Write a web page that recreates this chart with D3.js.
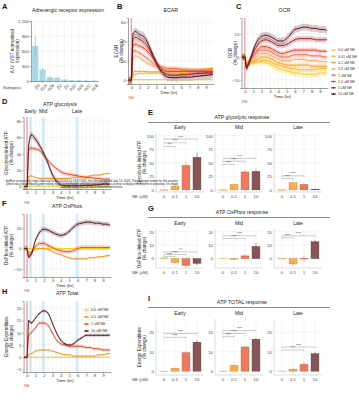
<!DOCTYPE html>
<html><head><meta charset="utf-8">
<script src="https://cdn.jsdelivr.net/npm/d3@7"></script>
<style>
body{margin:0;background:#fff}
svg{font-family:"Liberation Sans",Arial,sans-serif}
</style></head><body>
<svg id="fig" width="359" height="400"></svg>
<script>
// ---- data ----
var receptors = ["β3","α1A","α2B","β2","β1","α1D","α2A","α2C","α1B"];
var receptorExpr = [700, 230, 75, 65, 30, 15, 12, 10, 6];
var receptorErr = [200, 30, 12, 10, 6, 4, 3, 3, 2];

var times = [-0.3, 0, 0.2, 0.5, 1, 1.5, 2, 2.5, 3, 3.5, 4, 4.5, 5, 5.5, 6, 6.5, 7, 7.5, 8, 8.5, 9, 9.5, 9.8];

var doses8 = ["0.0 uM NE","0.01 uM NE","0.1 uM NE","0.5 uM NE","1 uM NE","1.5 uM NE","5 uM NE","10 uM NE"];
var colors8 = ["#F7CB15","#FBB62A","#F59A1E","#F6A26A","#F0684A","#DD3A1F","#A9141A","#520D10"];

var ecar = [
  [0,0,0.5,0.5,0.5,0.5,0.5,0.5,0.5,0.5,0.5,0.5,0.5,0.5,0.5,0.5,0.5,0.5,0.5,0.5,0.5,0.5,0.5],
  [0,0,5,6,7,7,7,7,7,7,7,7,7.5,7.5,8,8,8.5,9,9.5,10,11,12,12.5],
  [0,0,8,9,9,9,8.5,8.5,8.5,8.5,9,9,9,9,9.5,9.5,10,10,10.5,11,11.5,12,12.5],
  [0,0,22,25,23,20,17,15,13,12,11,11,11,11,11,11,10.5,10.5,10,10,10,10,10],
  [0,0,30,30,28,25,22,18,15,14,13,12,12,12,11,11,10,10,10,10,10,10,10],
  [0,0,36,37,35,33,29,24,18,13,10,9,9,9,9,9,9,9,9,9,9,9,9],
  [0,0,42,44,42,39,34,26,18,11,7,5.5,5,5,5.5,5.5,6,6.5,7,7,7.5,7.5,7.5],
  [0,0,48,50,47,45,38,28,18,10,5,3,2.5,2.5,3,3,3,3.5,4,4.5,5,5.5,6]
];
var ecarSE = [0.6, 1, 1, 2, 2.5, 3, 3.5, 4];

var ocr = [
  [0,0,-2,-2,-2,-2,-2,-2.5,-3,-4,-5,-5.5,-6,-6.5,-7,-7,-7.5,-7.5,-7.5,-7.5,-7,-7,-6.5],
  [0,0,-4,-3,-2.5,-2,-1.5,-1.5,-2,-3,-3.5,-4,-4.5,-5,-5,-5.5,-5.5,-5.5,-5.5,-5.5,-5,-5,-5],
  [0,0,-5,-3,-2,-1,0,0,-0.5,-1.5,-2.5,-3,-3.5,-3.5,-3.5,-3.5,-3.5,-3.5,-4,-4,-4,-4,-4],
  [0,0,-5,-2.5,-1,0.5,1.5,1.5,1,0,-1,-1.5,-1.5,-1.5,-1,-1,-1,-1.5,-1.5,-1.5,-2,-2,-2],
  [0,0,-5,-2,0,2,3,3,2.5,1.5,0.5,0,0,0.5,1,1,1,1,0.5,0.5,0.5,0,0],
  [0,0,-5,-2,1,3,4.5,4.5,4,3,2,1.5,2,2.5,3,3,3,3,3,3,2.5,2.5,2.5],
  [0,0,-5,-2,2,5,7,7.5,7,6,5,5,5.5,6.5,7.5,8,8,8,8,7.5,7.5,7.5,7.5],
  [0,0,-4,-3,3,7,9,9.5,9,8,7,7,8,10,12,12.5,13,13,12.5,12.5,12,12,11.5]
];
var ocrSE = [1.5, 1, 1, 1, 1, 1, 1.2, 1.5];

var doses4 = ["0.0 uM NE","0.1 uM NE","1 uM NE","10 uM NE"];
var colors4 = ["#F7CB15","#F39019","#E8431A","#4B0D10"];

var atpGly = [
  [0,0,0.5,0.5,0.5,0.5,0.5,0.5,0.5,0.5,0.5,0.5,0.5,0.5,0.5,0.5,0.5,0.5,0.5,0.5,0.5,0.5,0.5],
  [0,0,12,13,11,10,10,10,10,10,10,10,10,11,11,12,12,13,14,14,15,16,16],
  [0,0,45,47,46,44,38,32,26,22,18,16,15,14,13,12,11,11,10,10,9,9,9],
  [0,0,50,63,58,50,40,28,15,6,2,1,1,1,1,1,1.5,1.5,2,2,3,3,3]
];
var atpGlySE = [0.5, 1, 2.5, 4];

var atpOx = [
  [0,0,0,0,0,0,0,0,0,0,0,0,0,0,0,0,0,0,0,0,0,0,0],
  [0,0,-2,-1.5,-0.5,0,0,-0.5,-1.5,-2.5,-3,-4,-4.5,-5,-5,-5,-5,-4.5,-4.5,-4,-4,-3.5,-3.5],
  [0,0,-4,-2,1,2.5,2.5,1.5,0.5,-0.5,-1,-1.5,-1.5,-1,0,0.5,0.5,0.5,0.5,0.5,0.5,0.5,0.5],
  [0,0,-4,-3,4,8,9.5,9,8,7,6.5,7,8.5,10.5,12,12.5,13,13,12.5,12.5,12,12,11.5]
];
var atpOxSE = [0.3, 0.5, 1.2, 1.2];

var atpTot = [
  [0,0,0,0,0,0,0,0,0,0,0,0,0,0,0,0,0,0,0,0,0,0,0],
  [0,0,1,1.5,2.5,3,3,3,2.5,2,1.5,1,1,0.5,0.5,0.5,0.5,0.5,0.5,1,1,1.5,1.5],
  [0,0,9,10,12,14,14,13,10,7,5.5,5,4.5,4.5,4.5,4.5,4,4,3.5,3.5,3,3,3],
  [0,0,15,14,16,18,19,18,14,10,7,5.5,5,5.5,7,8,9,9,9,9,9,9,9]
];
var atpTotSE = [0.2, 0.3, 0.6, 0.6];

var stageWindows = [[0.25, 0.6], [1.75, 2.1], [5.75, 6.1]];
var stages = ["Early", "Mid", "Late"];

var barDoses = ["0", "0.1", "1", "10"];
var barColors = ["#F9D25C", "#F7A637", "#EB6A4C", "#7A4444"];
var gly = [[0, 7, 45, 60], [0, 10, 33, 34], [0, 13, 10, 1]];
var glySE = [[0.5, 2, 5, 8], [0.5, 2, 3, 4], [0.5, 2, 2, 1]];
var glyBr = [[[0,1,80,"***"],[0,2,87,"****"],[0,3,94,"****"]],
             [[0,1,47,"****"],[0,2,53,"****"],[0,3,58,"****"]],
             [[0,1,21,"****"],[0,2,26,"****"]]];
var ox = [[0.5, -3, -5, -3.5], [0.3, -0.5, 2, 9], [0, -4, 0, 12.5]];
var oxSE = [[0.3, 1, 1.5, 1.5], [0.2, 0.5, 0.7, 2.5], [0.2, 1.5, 2.5, 1.5]];
var oxBr = [[[0,1,1.5,"****"],[0,2,3,"****"],[0,3,5,"**"]],
            [[0,2,15,"****"],[0,3,17,"****"]],
            [[0,1,15.5,"****"],[0,3,17,"****"]]];
var tot = [[0, 1.5, 9.5, 15], [0, 3, 12.5, 16.5], [0, 1, 3.5, 9]];
var totSE = [[0.2, 0.5, 0.8, 0.8], [0.2, 0.7, 0.7, 0.6], [0.2, 1, 1.2, 0.8]];
var totBr = [[[0,2,17.5,"****"],[0,3,19.5,"****"]],
             [[0,1,18,"****"],[0,2,19.5,"****"],[0,3,21,"****"]],
             [[0,2,11,"***"],[0,3,12.5,"****"]]];

var watermark = [
  "bioRxiv preprint doi: https://doi.org/10.1101/2024.01.29.577401; this version posted July 10, 2024. The copyright holder for this preprint",
  "(which was not certified by peer review) is the author/funder, who has granted bioRxiv a license to display the preprint in perpetuity. It is made",
  "available under a CC-BY-NC 4.0 International license."
];

// ---- drawing ----
var svg = d3.select("#fig");
var GRID = "#ebebeb";

function label(x, y, s, size, opt) {
  opt = opt || {};
  return svg.append("text").attr("x", x).attr("y", y).text(s)
    .attr("font-size", size).attr("fill", opt.fill || "#222")
    .attr("text-anchor", opt.anchor || "middle")
    .attr("font-weight", opt.bold ? "bold" : null);
}
function vlabel(x, y, lines, size) {
  var t = svg.append("text").attr("transform", "translate(" + [x, y] + ") rotate(-90)")
    .attr("font-size", size).attr("text-anchor", "middle").attr("fill", "#222");
  lines.forEach(function(l, i) {
    t.append("tspan").attr("x", 0).attr("dy", i ? size * 1.1 : 0).text(l);
  });
}
function styleAxis(g, size) {
  g.selectAll("text").attr("font-size", size).attr("fill", "#444");
  g.selectAll("line").attr("stroke", "#444").attr("stroke-width", 0.4);
  g.select(".domain").attr("stroke", "#444").attr("stroke-width", 0.5);
}

function timePanel(c) {
  var g = svg.append("g");
  var x = d3.scaleLinear().domain([-0.4, 9.9]).range([c.left, c.right]);
  var y = d3.scaleLinear().domain(c.ydom).range([c.bottom, c.top]);
  g.append("g").selectAll("line").data(d3.range(0, 10, 0.5)).join("line")
    .attr("x1", d => x(d)).attr("x2", d => x(d)).attr("y1", c.top).attr("y2", c.bottom)
    .attr("stroke", GRID).attr("stroke-width", d => d % 1 ? 0.3 : 0.5);
  g.append("g").selectAll("line").data(c.yticks).join("line")
    .attr("x1", c.left).attr("x2", c.right).attr("y1", d => y(d)).attr("y2", d => y(d))
    .attr("stroke", GRID).attr("stroke-width", 0.5);
  if (c.bands) {
    g.selectAll("rect.band").data(stageWindows).join("rect")
      .attr("x", d => x(d[0])).attr("width", d => x(d[1]) - x(d[0]))
      .attr("y", c.top).attr("height", c.bottom - c.top).attr("fill", "#cfe5f7").attr("opacity", 0.8);
    if (c.stageY) stages.forEach(function(s, i) {
      label(x((stageWindows[i][0] + stageWindows[i][1]) / 2), c.stageY, s, 5.2);
    });
  }
  g.append("rect").attr("x", x(-0.1)).attr("width", x(0.1) - x(-0.1))
    .attr("y", c.top).attr("height", c.bottom - c.top).attr("fill", "#f7c6c6").attr("opacity", 0.6);
  g.append("line").attr("x1", x(0)).attr("x2", x(0)).attr("y1", c.top).attr("y2", c.bottom)
    .attr("stroke", "#e8706a").attr("stroke-width", 0.6);
  var area = d3.area().x((d, i) => x(times[i])).curve(d3.curveMonotoneX);
  var line = d3.line().x((d, i) => x(times[i])).y(d => y(d)).curve(d3.curveMonotoneX);
  c.series.forEach(function(vals, k) {
    var se = c.se[k];
    g.append("path").datum(vals)
      .attr("d", area.y0(d => y(d - se)).y1(d => y(d + se)))
      .attr("fill", c.colors[k]).attr("opacity", 0.22);
  });
  c.series.forEach(function(vals, k) {
    g.append("path").datum(vals).attr("d", line)
      .attr("fill", "none").attr("stroke", c.colors[k]).attr("stroke-width", 0.9);
    g.append("g").selectAll("circle").data(vals).join("circle")
      .attr("cx", (d, i) => x(times[i])).attr("cy", d => y(d)).attr("r", 0.45)
      .attr("fill", c.colors[k]);
  });
  var ax = g.append("g").attr("transform", "translate(0," + c.bottom + ")")
    .call(d3.axisBottom(x).tickValues(d3.range(0, 10)).tickSize(1.2).tickPadding(1));
  styleAxis(ax, 4.3);
  var ay = g.append("g").attr("transform", "translate(" + c.left + ",0)")
    .call(d3.axisLeft(y).tickValues(c.yticks).tickSize(1.2).tickPadding(1));
  styleAxis(ay, 4.3);
  label(x(4.5), c.bottom + 10, "Time (hr)", 4.3);
  label(x(0), c.bottom + 14.5, "NE", 4, { fill: "#e8534b" });
  label(c.titleX || (c.left + c.right) / 2, c.titleY || c.top - 6, c.title, 5.3);
  vlabel(c.ylabX, (c.top + c.bottom) / 2, c.ylab, 4.6);
  return { x: x, y: y };
}

function barPanel(c) {
  var lefts = [156, 215, 274], w = 48;
  label(242, c.headY, c.header, 5.2);
  svg.append("line").attr("x1", 148).attr("x2", 330).attr("y1", c.headY + 3.5).attr("y2", c.headY + 3.5)
    .attr("stroke", "#8a8a8a").attr("stroke-width", 1.2);
  var y = d3.scaleLinear().domain(c.ydom).range([c.bottom, c.top]);
  stages.forEach(function(st, k) {
    var L = lefts[k];
    var g = svg.append("g");
    var x = d3.scaleBand().domain(barDoses).range([L + 1, L + w]).padding(0.28);
    g.selectAll("line.gx").data(barDoses).join("line")
      .attr("x1", d => x(d) + x.bandwidth() / 2).attr("x2", d => x(d) + x.bandwidth() / 2)
      .attr("y1", c.top).attr("y2", c.bottom).attr("stroke", GRID).attr("stroke-width", 0.5);
    g.selectAll("line.gy").data(c.yticks).join("line")
      .attr("x1", L).attr("x2", L + w).attr("y1", d => y(d)).attr("y2", d => y(d))
      .attr("stroke", GRID).attr("stroke-width", 0.5);
    g.append("line").attr("x1", L).attr("x2", L).attr("y1", c.top).attr("y2", c.bottom)
      .attr("stroke", "#bbb").attr("stroke-width", 0.5);
    g.append("line").attr("x1", L).attr("x2", L + w).attr("y1", c.bottom).attr("y2", c.bottom)
      .attr("stroke", "#bbb").attr("stroke-width", 0.5);
    label(L + w / 2, c.titleY, st, 5);
    var vals = c.vals[k], se = c.se[k];
    g.selectAll("rect").data(vals).join("rect")
      .attr("x", (d, i) => x(barDoses[i])).attr("width", x.bandwidth())
      .attr("y", d => y(Math.max(0, d))).attr("height", d => Math.max(0.4, Math.abs(y(d) - y(0))))
      .attr("fill", (d, i) => barColors[i]).attr("fill-opacity", 0.9)
      .attr("stroke", (d, i) => d3.color(barColors[i]).darker(0.6)).attr("stroke-width", 0.4);
    g.selectAll("line.err").data(vals).join("line")
      .attr("x1", (d, i) => x(barDoses[i]) + x.bandwidth() / 2).attr("x2", (d, i) => x(barDoses[i]) + x.bandwidth() / 2)
      .attr("y1", (d, i) => y(d - se[i])).attr("y2", (d, i) => y(d + se[i]))
      .attr("stroke", (d, i) => d3.color(barColors[i]).darker(0.3)).attr("stroke-width", 0.5);
    c.br[k].forEach(function(b) {
      var xa = x(barDoses[b[0]]) + x.bandwidth() / 2, xb = x(barDoses[b[1]]) + x.bandwidth() / 2, yy = y(b[2]);
      g.append("path").attr("d", "M" + xa + "," + (yy + 1) + "V" + yy + "H" + xb + "V" + (yy + 1))
        .attr("fill", "none").attr("stroke", "#999").attr("stroke-width", 0.5);
      label((xa + xb) / 2, yy - 0.4, b[3], 3.4, { fill: "#333" });
    });
    var ay = g.append("g").attr("transform", "translate(" + L + ",0)")
      .call(d3.axisLeft(y).tickValues(c.yticks).tickSize(0).tickPadding(2));
    styleAxis(ay, 4.3);
    ay.select(".domain").remove();
    barDoses.forEach(function(d) {
      label(x(d) + x.bandwidth() / 2, c.xlabY, d, 4.3, { fill: "#444" });
    });
  });
  label(140, c.xlabY, "NE (uM)", 4.3, { fill: "#444" });
  vlabel(c.ylabX, (c.top + c.bottom) / 2, c.ylab, 4.6);
}

// Panel A
(function() {
  var left = 31, right = 98, top = 21, bottom = 81;
  var x = d3.scaleBand().domain(receptors).range([left, right]).padding(0.15);
  var y = d3.scaleLinear().domain([0, 1200]).range([bottom, top]);
  var g = svg.append("g");
  g.selectAll("line.gy").data([0, 300, 600, 900, 1200]).join("line")
    .attr("x1", left).attr("x2", right).attr("y1", d => y(d)).attr("y2", d => y(d))
    .attr("stroke", GRID).attr("stroke-width", 0.5);
  g.selectAll("line.gx").data(receptors).join("line")
    .attr("x1", d => x(d) + x.bandwidth() / 2).attr("x2", d => x(d) + x.bandwidth() / 2)
    .attr("y1", top).attr("y2", bottom).attr("stroke", GRID).attr("stroke-width", 0.5);
  g.selectAll("rect").data(receptorExpr).join("rect")
    .attr("x", (d, i) => x(receptors[i])).attr("width", x.bandwidth())
    .attr("y", d => y(d)).attr("height", d => bottom - y(d)).attr("fill", "#a8d7e6");
  g.selectAll("line.err").data(receptorExpr).join("line")
    .attr("x1", (d, i) => x(receptors[i]) + x.bandwidth() / 2).attr("x2", (d, i) => x(receptors[i]) + x.bandwidth() / 2)
    .attr("y1", (d, i) => y(d - receptorErr[i])).attr("y2", (d, i) => y(d + receptorErr[i]))
    .attr("stroke", "#6fb6cf").attr("stroke-width", 0.6);
  var ay = g.append("g").attr("transform", "translate(" + left + ",0)")
    .call(d3.axisLeft(y).tickValues([0, 300, 600, 900, 1200]).tickSize(1.2).tickPadding(1));
  styleAxis(ay, 4.3);
  var ax = g.append("g").attr("transform", "translate(0," + bottom + ")")
    .call(d3.axisBottom(x).tickSize(1.2).tickPadding(1));
  styleAxis(ax, 4.3);
  ax.selectAll("text").attr("text-anchor", "end").attr("transform", "translate(1,1) rotate(-45)");
  label(3, 89, "Subtypes:", 4.3, { anchor: "start", fill: "#444" });
  label(68, 12, "Adrenergic receptor expression", 5.2);
  vlabel(14, 51, ["A.U. (VST normalised", "expression)"], 4.6);
})();

timePanel({ left: 128, right: 213.5, top: 18, bottom: 84, ydom: [-4, 64], yticks: [0, 20, 40, 60],
  series: ecar, se: ecarSE, colors: colors8, title: "ECAR", ylab: ["ECAR", "(% change)"], ylabX: 118 });

timePanel({ left: 241.5, right: 327.5, top: 18, bottom: 88, ydom: [-13.5, 17], yticks: [-10, 0, 10],
  series: ocr, se: ocrSE, colors: colors8, title: "OCR", ylab: ["OCR", "(% change)"], ylabX: 232 });

// legend for B/C
doses8.forEach(function(d, i) {
  var yy = 50 + i * 6.3;
  svg.append("line").attr("x1", 331).attr("x2", 336).attr("y1", yy).attr("y2", yy)
    .attr("stroke", colors8[i]).attr("stroke-width", 0.9);
  svg.append("circle").attr("cx", 333.5).attr("cy", yy).attr("r", 1).attr("fill", colors8[i]);
  label(338, yy + 1.3, d, 3.6, { anchor: "start", fill: "#333" });
});

timePanel({ left: 23.6, right: 110.6, top: 117, bottom: 189, ydom: [-3, 85], yticks: [0, 20, 40, 60, 80],
  series: atpGly, se: atpGlySE, colors: colors4, title: "ATP glycolysis", titleY: 106, titleX: 60,
  bands: true, stageY: 113, ylab: ["Glycolysis-linked ATP", "(% change)"], ylabX: 8 });

timePanel({ left: 23.6, right: 110.6, top: 214, bottom: 277, ydom: [-14, 17], yticks: [-10, 0, 10],
  series: atpOx, se: atpOxSE, colors: colors4, title: "ATP OxPhos", bands: true,
  ylab: ["OxPhos-linked ATP", "(% change)"], ylabX: 8 });

timePanel({ left: 23.6, right: 110.6, top: 301, bottom: 372, ydom: [-6, 23], yticks: [-5, 0, 5, 10, 15, 20],
  series: atpTot, se: atpTotSE, colors: colors4, title: "ATP Total", bands: true,
  ylab: ["Energy Expenditure", "(% change)"], ylabX: 8 });

// legend in H
doses4.forEach(function(d, i) {
  var yy = 310 + i * 7;
  svg.append("line").attr("x1", 84).attr("x2", 89).attr("y1", yy).attr("y2", yy)
    .attr("stroke", colors4[i]).attr("stroke-width", 0.9);
  svg.append("circle").attr("cx", 86.5).attr("cy", yy).attr("r", 1.1).attr("fill", colors4[i]);
  label(91, yy + 1.3, d, 3.7, { anchor: "start", fill: "#333" });
});

barPanel({ headY: 119, header: "ATP glycolytic response", titleY: 129, top: 133, bottom: 192,
  ydom: [-4, 105], yticks: [0, 25, 50, 75, 100], vals: gly, se: glySE, br: glyBr, xlabY: 198,
  ylab: ["Glycolysis-linked ATP", "(% change)"], ylabX: 141 });

barPanel({ headY: 214, header: "ATP OxPhos response", titleY: 225, top: 229, bottom: 268,
  ydom: [-7, 22], yticks: [0, 10, 20], vals: ox, se: oxSE, br: oxBr, xlabY: 274,
  ylab: ["OxPhos-linked ATP", "(% change)"], ylabX: 141 });

barPanel({ headY: 304, header: "ATP TOTAL response", titleY: 315, top: 319, bottom: 375,
  ydom: [-2, 27], yticks: [0, 10, 20], vals: tot, se: totSE, br: totBr, xlabY: 381,
  ylab: ["Energy Expenditure", "(% change)"], ylabX: 141 });

// watermark
watermark.forEach(function(s, i) {
  var t = label(92, 182 + i * 3.2, s, 2.6, { fill: "#222" });
  if (i < 2) t.attr("textLength", 172).attr("lengthAdjust", "spacingAndGlyphs");
});

// panel letters
[["A", 2, 9], ["B", 117, 9], ["C", 236, 9], ["D", 2, 104], ["E", 148, 115], ["F", 2, 206],
 ["G", 148, 211], ["H", 2, 294], ["I", 148, 301]].forEach(function(p) {
  label(p[1], p[2], p[0], 7.5, { anchor: "start", bold: true, fill: "#111" });
});
</script>
</body></html>
